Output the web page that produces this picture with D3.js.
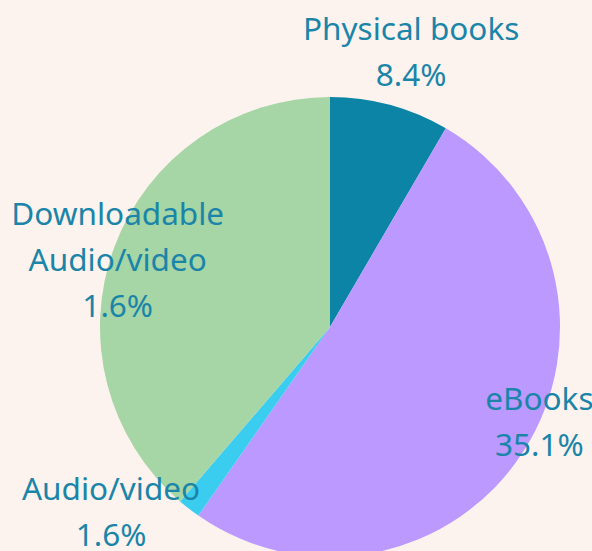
<!DOCTYPE html>
<html>
<head>
<meta charset="utf-8">
<script src="https://cdn.jsdelivr.net/npm/d3@7"></script>
<style>
  html, body { margin: 0; padding: 0; background: #fdf3ee; }
  svg { display: block; }
</style>
</head>
<body>
<div id="chart"></div>
<script>
// Chart size
var Chart_Width = 592;
var Chart_Height = 551;

// Slice data (shares) and the label text shown
var categories = ["Physical books", "eBooks", "Audio/video", "Downloadable\nAudio/video"];
var values = [8.4, 51.3, 1.6, 38.7];
var labelValues = ["8.4%", "35.1%", "1.6%", "1.6%"];
var colors = ["#0b84a5", "#bb99ff", "#3bcdf0", "#a6d5a6"];

// where each label block sits: angle (deg from top, clockwise) and distance from centre
var labelLayout = [
  { angle: 16.6, r: 284 },
  { angle: 115, r: 231 },
  { angle: 229.5, r: 288 },
  { angle: 287, r: 222 }
];

var cx = 330, cy = 327, radius = 230;
var lineHeight = 46;

var svg = d3.select("#chart")
  .append("svg")
  .attr("width", Chart_Width)
  .attr("height", Chart_Height);

var data = categories.map(function(c, i) {
  return { name: c, value: values[i], label: labelValues[i], color: colors[i], layout: labelLayout[i] };
});

var pie = d3.pie()
  .sort(null)
  .value(d => d.value);

var arc = d3.arc()
  .innerRadius(0)
  .outerRadius(radius);

var pieGroup = svg.append("g")
  .attr("transform", `translate(${cx}, ${cy})`);

pieGroup.selectAll("path")
  .data(pie(data))
  .enter()
  .append("path")
  .attr("d", arc)
  .attr("fill", d => d.data.color);

// labels
var labels = pieGroup.selectAll("text")
  .data(data)
  .enter()
  .append("text")
  .attr("text-anchor", "middle")
  .attr("font-family", "'Noto Sans', 'Open Sans', sans-serif")
  .attr("font-size", "31.5px")
  .attr("fill", "#1a85a8")
  .attr("transform", function(d) {
    var a = d.layout.angle * Math.PI / 180;
    var x = Math.sin(a) * d.layout.r;
    var y = -Math.cos(a) * d.layout.r;
    return `translate(${x}, ${y})`;
  });

labels.each(function(d) {
  var lines = d.name.split("\n").concat([d.label]);
  var t = d3.select(this);
  var top = -(lines.length - 1) * lineHeight / 2;
  lines.forEach(function(line, i) {
    t.append("tspan")
      .attr("x", 0)
      .attr("y", top + i * lineHeight)
      .attr("dy", "0.27em")
      .text(line);
  });
});
</script>
</body>
</html>
